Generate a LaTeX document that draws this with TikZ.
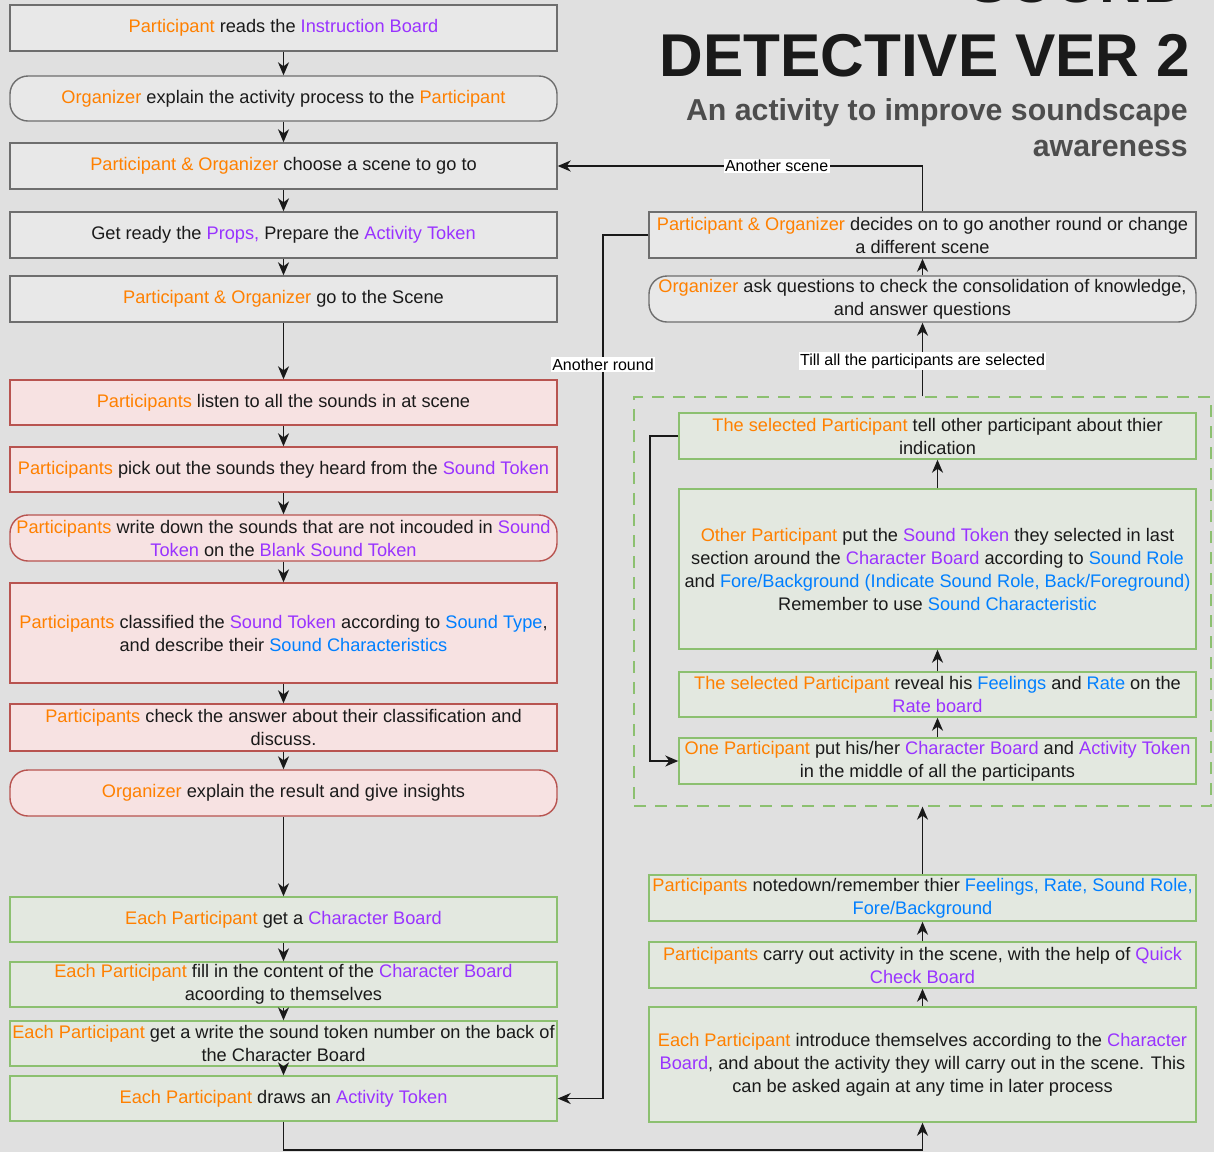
\documentclass[tikz,border=0pt]{standalone}
\usepackage{fontspec}
\setmainfont{Liberation Sans}
\usetikzlibrary{arrows.meta}

\definecolor{bg}{HTML}{E0E0E0}
\definecolor{grayfill}{HTML}{E8E8E8}
\definecolor{grayline}{HTML}{6E6E6E}
\definecolor{redfill}{HTML}{F7E2E2}
\definecolor{redline}{HTML}{B85450}
\definecolor{greenfill}{HTML}{E3E8E0}
\definecolor{greenline}{HTML}{8CC070}
\definecolor{txtor}{HTML}{FF8000}
\definecolor{txtpu}{HTML}{9933FF}
\definecolor{txtbl}{HTML}{007FFF}
\definecolor{txt}{HTML}{1A1A1A}
\definecolor{titledark}{HTML}{1A1A1A}
\definecolor{titlegray}{HTML}{4D4D4D}

\newcommand{\cOr}[1]{\textcolor{txtor}{#1}}
\newcommand{\cPu}[1]{\textcolor{txtpu}{#1}}
\newcommand{\cBl}[1]{\textcolor{txtbl}{#1}}

\begin{document}
\begin{tikzpicture}[x=1pt,y=-1pt,
  box/.style={draw, line width=1.4pt, align=center, inner xsep=2pt, inner ysep=0pt,
    minimum width=547, font=\fontsize{18.2}{23}\selectfont, text=txt},
  graybox/.style={box, draw=grayline, fill=grayfill},
  redbox/.style={box, draw=redline, fill=redfill},
  greenbox/.style={box, draw=greenline, fill=greenfill},
  pill/.style={rounded corners=18pt},
  grp/.style={draw=greenline, line width=1.3pt, dash pattern=on 12pt off 9pt,
    minimum width=577, minimum height=409, inner sep=0pt},
  arr/.style={draw=black!90, line width=1.6pt, -{Stealth[length=13pt,width=11pt,inset=4pt]}},
  lbl/.style={fill=white, inner sep=1.5pt, font=\fontsize{16}{18}\selectfont, text=black},
]
\useasboundingbox (0,0) rectangle (1214,1152);
\clip (0,0) rectangle (1214,1152);
\fill[bg] (0,0) rectangle (1214,1152);

% Title (its first line runs past the top edge)
\node[anchor=base east, inner sep=0pt, text=titledark, font=\fontsize{60.4}{60}\selectfont\bfseries] (t0) at (1187,2) {SOUND};
\node[anchor=base east, inner sep=0pt, text=titledark, font=\fontsize{60.4}{60}\selectfont\bfseries] (t1) at (1190,76) {DETECTIVE VER 2};
\node[anchor=base east, inner sep=0pt, text=titlegray, font=\fontsize{30.3}{36}\selectfont\bfseries] (t2) at (1188,120) {An activity to improve soundscape};
\node[anchor=base east, inner sep=0pt, text=titlegray, font=\fontsize{30.3}{36}\selectfont\bfseries] (t3) at (1188,156) {awareness};

% Left column: preparation
\node[graybox, minimum height=46] (n1) at (283.5,28) {\cOr{Participant} reads the \cPu{Instruction Board}};
\node[graybox, pill, minimum height=45] (n2) at (283.5,98.5) {\cOr{Organizer} explain the activity process to the \cOr{Participant}};
\node[graybox, minimum height=46] (n3) at (283.5,166) {\cOr{Participant \& Organizer} choose a scene to go to};
\node[graybox, minimum height=46] (n4) at (283.5,235) {Get ready the \cPu{Props,} Prepare the \cPu{Activity Token}};
\node[graybox, minimum height=46] (n5) at (283.5,299) {\cOr{Participant \& Organizer} go to the Scene};

% Left column: listening
\node[redbox, minimum height=45] (n6) at (283.5,402.5) {\cOr{Participants} listen to all the sounds in at scene};
\node[redbox, minimum height=45] (n7) at (283.5,469.5) {\cOr{Participants} pick out the sounds they heard from the \cPu{Sound Token}};
\node[redbox, pill, minimum height=46] (n8) at (283.5,538) {\cOr{Participants} write down the sounds that are not incouded in \cPu{Sound}\\\cPu{Token} on the \cPu{Blank Sound Token}};
\node[redbox, minimum height=100] (n9) at (283.5,633) {\cOr{Participants} classified the \cPu{Sound Token} according to \cBl{Sound Type},\\and describe their \cBl{Sound Characteristics}};
\node[redbox, minimum height=47] (n10) at (283.5,727.5) {\cOr{Participants} check the answer about their classification and\\discuss.};
\node[redbox, pill, minimum height=46] (n11) at (283.5,793) {\cOr{Organizer} explain the result and give insights};

% Left column: characters
\node[greenbox, minimum height=45] (n12) at (283.5,919.5) {\cOr{Each Participant} get a \cPu{Character Board}};
\node[greenbox, minimum height=45] (n13) at (283.5,984.5) {\cOr{Each Participant} fill in the content of the \cPu{Character Board}\\acoording to themselves};
\node[greenbox, minimum height=45] (n14) at (283.5,1043.5) {\cOr{Each Participant} get a write the sound token number on the back of\\the Character Board};
\node[greenbox, minimum height=45] (n15) at (283.5,1098.5) {\cOr{Each Participant} draws an \cPu{Activity Token}};

% Right column
\node[graybox, minimum height=46] (r1) at (922.5,235) {\cOr{Participant \& Organizer} decides on to go another round or change\\a different scene};
\node[graybox, pill, minimum height=46] (r2) at (922.5,299) {\cOr{Organizer} ask questions to check the consolidation of knowledge,\\and answer questions};

\node[grp] (grp) at (922.5,601.5) {};
\node[greenbox, minimum width=517, minimum height=46] (g1) at (937.5,436) {\cOr{The selected Participant} tell other participant about thier\\indication};
\node[greenbox, minimum width=517, minimum height=160] (g2) at (937.5,569) {\cOr{Other Participant} put the \cPu{Sound Token} they selected in last\\section around the \cPu{Character Board} according to \cBl{Sound Role}\\and \cBl{Fore/Background (Indicate Sound Role, Back/Foreground)}\\Remember to use \cBl{Sound Characteristic}};
\node[greenbox, minimum width=517, minimum height=45] (g3) at (937.5,694.5) {\cOr{The selected Participant} reveal his \cBl{Feelings} and \cBl{Rate} on the\\\cPu{Rate board}};
\node[greenbox, minimum width=517, minimum height=46] (g4) at (937.5,761) {\cOr{One Participant} put his/her \cPu{Character Board} and \cPu{Activity Token}\\in the middle of all the participants};

\node[greenbox, minimum height=46] (r3) at (922.5,898) {\cOr{Participants} notedown/remember thier \cBl{Feelings, Rate, Sound Role,}\\\cBl{Fore/Background}};
\node[greenbox, minimum height=46] (r4) at (922.5,965) {\cOr{Participants} carry out activity in the scene, with the help of \cPu{Quick}\\\cPu{Check Board}};
\node[greenbox, minimum height=115] (r5) at (922.5,1064.5) {\cOr{Each Participant} introduce themselves according to the \cPu{Character}\\\cPu{Board}, and about the activity they will carry out in the scene. This\\can be asked again at any time in later process};

% Left column flow
\foreach \a/\b in {n1/n2,n2/n3,n3/n4,n4/n5,n5/n6,n6/n7,n7/n8,n8/n9,n9/n10,n10/n11,n11/n12,n12/n13,n13/n14,n14/n15}
  \draw[arr] (\a.south) -- (\b.north);

% Bottom link into the right column
\coordinate (bl) at (283.5,1150);
\draw[arr] (n15.south) -- (bl) -| (r5.south);

% Right column flow (upwards)
\draw[arr] (r5.north) -- (r4.south);
\draw[arr] (r4.north) -- (r3.south);
\draw[arr] (r3.north) -- (grp.south);
\draw[arr] (g4.north) -- (g3.south);
\draw[arr] (g3.north) -- (g2.south);
\draw[arr] (g2.north) -- (g1.south);
\coordinate (gl) at (650,436);
\draw[arr] (g1.west) -- (gl) |- (g4.west);
\draw[arr] (grp.north) -- node[lbl, pos=0.48] {Till all the participants are selected} (r2.south);
\draw[arr] (r2.north) -- (r1.south);

% Loops back
\draw[arr] (r1.north) |- node[lbl, pos=0.70] {Another scene} (n3.east);
\coordinate (rl) at (603,235);
\draw[arr] (r1.west) -- (rl) |- node[lbl, pos=0.075] {Another round} (n15.east);
\end{tikzpicture}
\end{document}
